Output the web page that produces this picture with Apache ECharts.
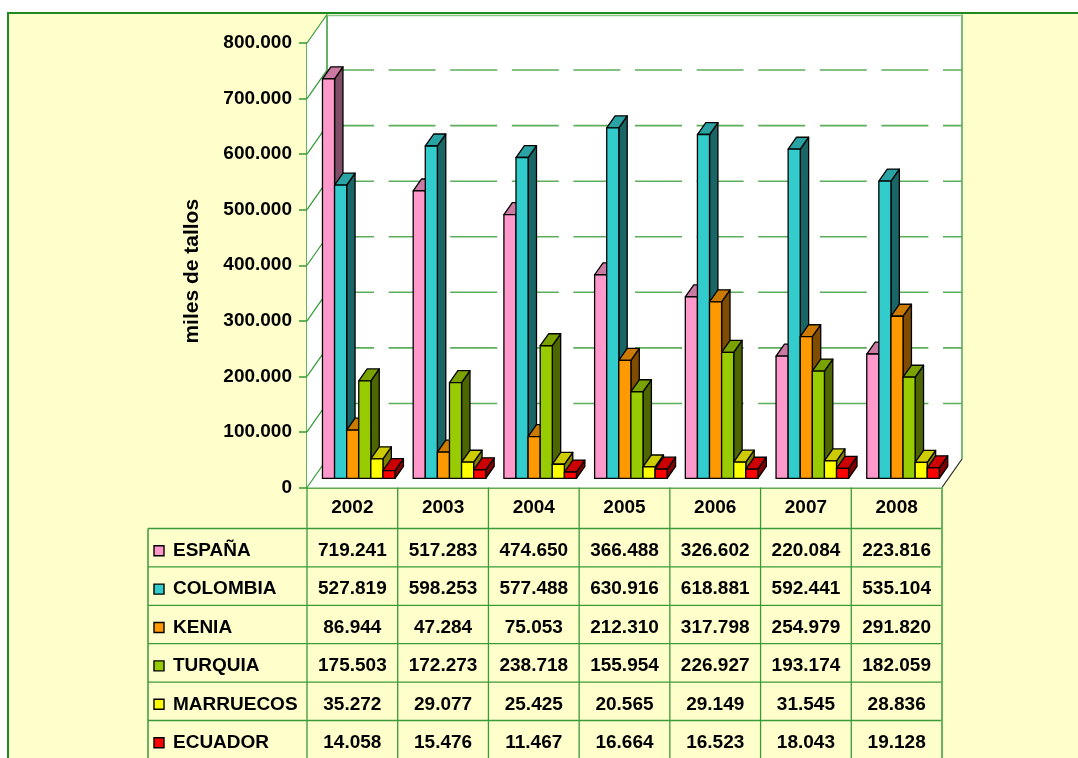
<!DOCTYPE html>
<html>
<head>
<meta charset="utf-8">
<script src="https://cdn.jsdelivr.net/npm/echarts@6/dist/echarts.min.js"></script>
<style>
  html, body { margin: 0; padding: 0; background: #fff; }
  #main { width: 1078px; height: 758px; }
</style>
</head>
<body>
<div id="main"></div>
<script>
// datos (miles de tallos)
var years = ['2002', '2003', '2004', '2005', '2006', '2007', '2008'];
var countries = ['ESPAÑA', 'COLOMBIA', 'KENIA', 'TURQUIA', 'MARRUECOS', 'ECUADOR'];
var espana    = [719241, 517283, 474650, 366488, 326602, 220084, 223816];
var colombia  = [527819, 598253, 577488, 630916, 618881, 592441, 535104];
var kenia     = [86944, 47284, 75053, 212310, 317798, 254979, 291820];
var turquia   = [175503, 172273, 238718, 155954, 226927, 193174, 182059];
var marruecos = [35272, 29077, 25425, 20565, 29149, 31545, 28836];
var ecuador   = [14058, 15476, 11467, 16664, 16523, 18043, 19128];
var yTicks = [0, 100000, 200000, 300000, 400000, 500000, 600000, 700000, 800000];

var seriesValues = [espana, colombia, kenia, turquia, marruecos, ecuador];
var colors = ['#FF99CC', '#33CCCC', '#FF9900', '#99CC00', '#FFFF00', '#FF0000'];

var FONT = "'Liberation Sans', Arial, sans-serif";
var FS = 19;
// profundidad del "3D"
var DX = 20, DY = -28.5;
var ROW_H = 38.4, HEAD_H = 41, LEG_X = 148;

function fmt (v) {
  return String(v).replace(/\B(?=(\d{3})+(?!\d))/g, '.');
}
function shade (hex, k) {
  var n = parseInt(hex.slice(1), 16);
  var r = Math.round(((n >> 16) & 255) * k), g = Math.round(((n >> 8) & 255) * k), b = Math.round((n & 255) * k);
  return 'rgb(' + r + ',' + g + ',' + b + ')';
}

// paredes, suelo y lineas de division
function wallItem (params, api) {
  var cs = params.coordSys;
  var v = api.value(1);
  var y = api.coord([0, v])[1];
  var x0 = cs.x, x1 = cs.x + cs.width, yb = cs.y + cs.height, yt = cs.y;
  var children = [];
  if (params.dataIndex === 0) {
    children.push({ type: 'rect', shape: { x: x0 + DX, y: yt + DY, width: cs.width, height: cs.height },
      style: { fill: '#fff', stroke: null } });
    children.push({ type: 'polygon', shape: { points: [[x0, yt], [x0 + DX, yt + DY], [x0 + DX, yb + DY], [x0, yb]] },
      style: { fill: '#fff', stroke: null } });
    children.push({ type: 'polygon', shape: { points: [[x0, yb], [x1, yb], [x1 + DX, yb + DY], [x0 + DX, yb + DY]] },
      style: { fill: '#fff', stroke: null } });
    children.push({ type: 'line', shape: { x1: x0 + DX, y1: yt + DY, x2: x0 + DX, y2: yb + DY },
      style: { stroke: '#339933', lineWidth: 1.5 } });
    children.push({ type: 'line', shape: { x1: x1 + DX, y1: yt + DY, x2: x1 + DX, y2: yb + DY },
      style: { stroke: '#77bb77', lineWidth: 2 } });
    children.push({ type: 'line', shape: { x1: x0 + DX, y1: yt + DY + 1, x2: x1 + DX, y2: yt + DY + 1 },
      style: { stroke: '#88c488', lineWidth: 1.5 } });
    children.push({ type: 'line', shape: { x1: x1, y1: yb, x2: x1 + DX, y2: yb + DY },
      style: { stroke: '#222', lineWidth: 1.2 } });
  }
  if (v > 0 && v < 800000) {
    children.push({ type: 'line', shape: { x1: x0 + DX, y1: y + DY, x2: x1 + DX, y2: y + DY },
      style: { stroke: '#5cae5c', lineWidth: 1.6, lineDash: [47, 14.6] } });
  }
  children.push({ type: 'line', shape: { x1: x0, y1: y, x2: x0 + DX, y2: y + DY },
    style: { stroke: '#339933', lineWidth: 1.2 } });
  return { type: 'group', children: children };
}

// columnas con efecto 3D
function barItem (s) {
  return function (params, api) {
    var i = api.value(0), v = api.value(1);
    var band = api.size([1, 0])[0];
    var w = band / 7.5;
    var base = api.coord([i, 0]);
    var top = api.coord([i, v]);
    var ox = DX * 0.32, oy = DY * 0.32;
    var dx = DX * 0.42, dy = DY * 0.42;
    var x0 = base[0] - 3 * w + s * w + ox;
    var x1 = x0 + w;
    var yb = base[1] + oy, yt = top[1] + oy;
    var c = colors[s];
    var st = function (fill) { return { fill: fill, stroke: '#000', lineWidth: 1.3, lineJoin: 'round' }; };
    return { type: 'group', children: [
      { type: 'polygon', shape: { points: [[x1, yb], [x1 + dx, yb + dy], [x1 + dx, yt + dy], [x1, yt]] }, style: st(shade(c, 0.5)) },
      { type: 'polygon', shape: { points: [[x0, yt], [x1, yt], [x1 + dx, yt + dy], [x0 + dx, yt + dy]] }, style: st(shade(c, 0.8)) },
      { type: 'rect', shape: { x: x0, y: yt, width: w, height: yb - yt }, style: st(c) }
    ] };
  };
}

// tabla de datos
function tableItem (params, api) {
  var cs = params.coordSys;
  var i = api.value(0);
  var band = api.size([1, 0])[0];
  var cx = api.coord([i, 0])[0];
  var yb = cs.y + cs.height;
  var rowTop = yb + HEAD_H;
  var H = api.getHeight();
  var lineCol = '#3a9a3a';
  var children = [];
  children.push({ type: 'line', shape: { x1: cx + band / 2, y1: yb, x2: cx + band / 2, y2: H },
    style: { stroke: i === years.length - 1 ? '#66b366' : lineCol, lineWidth: i === years.length - 1 ? 2 : 1.3 } });
  if (i === 0) {
    var xl = cx - band / 2, xr = cs.x + cs.width;
    children.push({ type: 'line', shape: { x1: xl, y1: yb, x2: xl, y2: H }, style: { stroke: lineCol, lineWidth: 1.3 } });
    children.push({ type: 'line', shape: { x1: LEG_X, y1: rowTop, x2: LEG_X, y2: H }, style: { stroke: lineCol, lineWidth: 1.5 } });
    for (var k = 0; k < countries.length; k++) {
      var ry = rowTop + k * ROW_H;
      children.push({ type: 'line', shape: { x1: LEG_X, y1: ry, x2: xr, y2: ry }, style: { stroke: lineCol, lineWidth: 1.3 } });
      var cy = ry + ROW_H / 2 + 3;
      children.push({ type: 'rect', shape: { x: 154, y: cy - 5, width: 10, height: 10 },
        style: { fill: colors[k], stroke: '#000', lineWidth: 1.4 } });
      children.push({ type: 'text', x: 173, y: cy, style: { text: countries[k], fill: '#000',
        font: 'bold ' + FS + 'px ' + FONT, align: 'left', verticalAlign: 'middle' } });
    }
  }
  for (var s = 0; s < seriesValues.length; s++) {
    children.push({ type: 'text', x: cx, y: rowTop + s * ROW_H + ROW_H / 2 + 3,
      style: { text: fmt(seriesValues[s][i]), fill: '#000', font: 'bold ' + FS + 'px ' + FONT,
        align: 'center', verticalAlign: 'middle' } });
  }
  return { type: 'group', children: children };
}

var series = [{
  type: 'custom', name: 'fondo', z: 1, clip: false, silent: true,
  renderItem: wallItem,
  encode: { x: 0, y: 1 },
  data: yTicks.map(function (v) { return [0, v]; })
}];
countries.forEach(function (name, s) {
  series.push({
    type: 'custom', name: name, z: 3, clip: false,
    renderItem: barItem(s),
    encode: { x: 0, y: 1 },
    data: seriesValues[s].map(function (v, i) { return [i, v]; })
  });
});
series.push({
  type: 'custom', name: 'tabla', z: 2, clip: false, silent: true,
  renderItem: tableItem,
  encode: { x: 0, y: 1 },
  data: years.map(function (y, i) { return [i, 0]; })
});

var chart = echarts.init(document.getElementById('main'));
chart.setOption({
  backgroundColor: '#FFFFCC',
  animation: false,
  textStyle: { fontFamily: FONT },
  graphic: [
    { type: 'rect', shape: { x: 0, y: 0, width: 1078, height: 12 }, style: { fill: '#fff' }, z: 100 },
    { type: 'rect', shape: { x: 0, y: 0, width: 7, height: 758 }, style: { fill: '#fff' }, z: 100 },
    { type: 'line', shape: { x1: 7, y1: 13, x2: 1078, y2: 13 }, style: { stroke: '#1f8a1f', lineWidth: 2 }, z: 100 },
    { type: 'line', shape: { x1: 8, y1: 12, x2: 8, y2: 758 }, style: { stroke: '#1f8a1f', lineWidth: 2 }, z: 100 }
  ],
  grid: { left: 307, right: 136, top: 43, bottom: 270.5, containLabel: false, outerBoundsMode: 'none' },
  xAxis: {
    type: 'category',
    data: years,
    axisLine: { lineStyle: { color: '#2e8b2e', width: 1.5 } },
    axisTick: { show: false },
    axisLabel: { margin: 11, fontSize: FS, fontWeight: 'bold', color: '#000', fontFamily: FONT },
    splitLine: { show: false }
  },
  yAxis: {
    type: 'value',
    min: 0, max: 800000, interval: 100000,
    name: 'miles de tallos',
    nameLocation: 'middle',
    nameRotate: 90,
    nameGap: 104,
    nameMoveOverlap: false,
    nameTextStyle: { fontSize: 21, fontWeight: 'bold', color: '#000', fontFamily: FONT, padding: [0, 12, 0, 0] },
    axisLine: { show: true, lineStyle: { color: '#339933', width: 1.5 } },
    axisTick: { show: true, length: 8, lineStyle: { color: '#339933', width: 1.5 } },
    axisLabel: { margin: 15, fontSize: FS, fontWeight: 'bold', color: '#000', fontFamily: FONT, formatter: fmt },
    splitLine: { show: false }
  },
  series: series
});
</script>
</body>
</html>
